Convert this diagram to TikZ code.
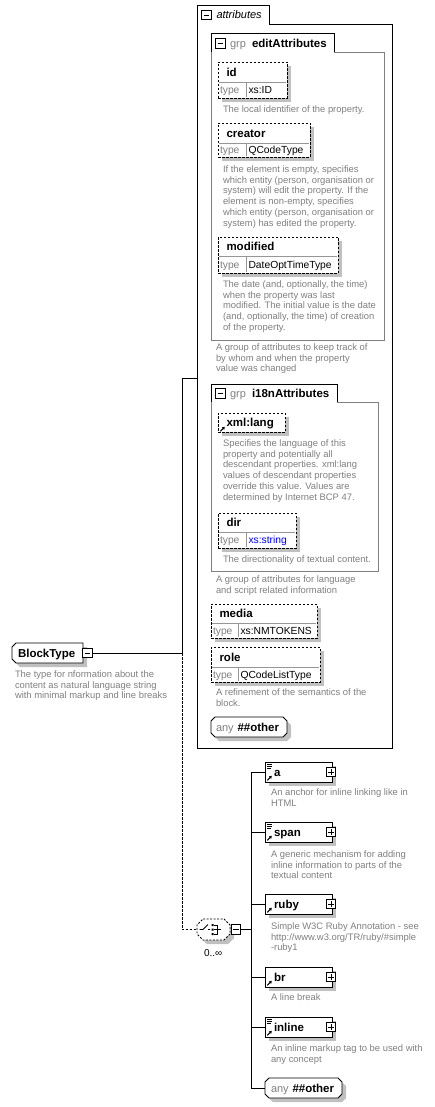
\documentclass[tikz,border=0pt]{standalone}
\usepackage{fontspec}
\setmainfont{Liberation Sans}
\usetikzlibrary{fit,arrows.meta}
\definecolor{descc}{RGB}{128,128,128}
\definecolor{shadowc}{RGB}{192,192,192}
\definecolor{grpc}{RGB}{128,128,128}
\definecolor{divc}{RGB}{150,150,150}
\definecolor{linkc}{RGB}{0,0,255}
\newcommand\fname{\fontsize{11.5}{13}\selectfont\bfseries}
\newcommand\fdesc{\fontsize{9.4}{10.7}\selectfont}
\newcommand\ftype{\fontsize{10.3}{12}\selectfont}
\tikzset{
 box/.style={draw=black, fill=white, line width=0.9pt, inner sep=0pt},
 optbox/.style={box, dash pattern=on 2.5pt off 1.5pt},
 shadowfill/.style={fill=shadowc, draw=none},
 txt/.style={inner sep=0pt, outer sep=0pt},
 nametxt/.style={txt, font=\fname, text height=8.2pt, text depth=0pt},
 grptxt/.style={txt, font=\fontsize{11}{13}\selectfont, text=descc, anchor=west, text height=8pt, text depth=0pt},
 typel/.style={txt, font=\ftype, text=descc, text height=7.4pt, text depth=0pt},
 typev/.style={txt, font=\ftype, text height=7.4pt, text depth=0pt},
 desc/.style={txt, font=\fdesc, text=descc, align=left, anchor=north west},
 divline/.style={draw=divc, line width=0.7pt},
 conn/.style={draw=black, line width=0.9pt},
 dconn/.style={conn, dash pattern=on 2.5pt off 1.5pt},
 icon/.style={draw=black, fill=white, line width=0.7pt, inner sep=0pt, minimum size=9.5pt},
 refarrow/.style={line width=1pt, -{Triangle[length=2.6pt,width=3.2pt]}},
}
% minus / plus icons
\newcommand\minusicon[3]{\node[icon] (#1) at ({#2},{#3}) {};
 \draw[line width=0.7pt] ({#2-2.8},{#3}) -- ({#2+2.8},{#3});}
\newcommand\plusicon[3]{\node[icon] (#1) at ({#2},{#3}) {};
 \draw[line width=0.7pt] ({#2-2.8},{#3}) -- ({#2+2.8},{#3}) ({#2},{#3-2.8}) -- ({#2},{#3+2.8});}
% attribute with type row: name x1 y1 x2 ydiv y2 xdiv label type
\newcommand\attrT[9]{%
 \fill[shadowc] ({#2+4},{#3+4}) rectangle ({#4+4},{#6+4});
 \node[optbox, fit={(#2,#3) (#4,#6)}] (#1) {};
 \draw[divline] ({#2+1},{#5}) -- ({#4-1},{#5});
 \draw[divline] ({#7},{#5}) -- ({#7},{#6-1});
 \node[nametxt, anchor=west] (#1-n) at ({#2+8.5},{(#3+#5)/2}) {#8};
 \node[typel, anchor=west] (#1-t) at ({#2+2},{(#5+#6)/2}) {type};
 \node[typev, anchor=west] (#1-v) at ({#7+2.5},{(#5+#6)/2}) {#9};}
% octagon path: x1 y1 x2 y2 cut style
\newcommand\octdraw[6]{\path[#6] ({#1+#5},{#2}) -- ({#3-#5},{#2}) -- ({#3},{#2+#5}) -- ({#3},{#4-#5}) -- ({#3-#5},{#4}) -- ({#1+#5},{#4}) -- ({#1},{#4-#5}) -- ({#1},{#2+#5}) -- cycle;}
% child element: name y1 label seqicon(1/0)
\newcommand\child[4]{%
 \fill[shadowc] (269,{#2+4}) rectangle (336,{#2+24});
 \node[box, fit={(265,#2) (332,{#2+20})}] (#1) {};
 \node[nametxt, anchor=west] (#1-n) at (274,{#2+10.5}) {#3};
 \draw[refarrow] (267.3,{#2+18.3}) -- (271.8,{#2+13.8});
 \ifnum#4=1 \draw[line width=0.8pt] (267,{#2+2.5}) -- (272,{#2+2.5}) (267,{#2+4.5}) -- (272,{#2+4.5}) (267,{#2+6.5}) -- (271,{#2+6.5});\fi
 \plusicon{#1-p}{331}{#2+10}}
\begin{document}
\begin{tikzpicture}[x=1pt,y=-1pt]
\useasboundingbox (0,0) rectangle (434,1107);
\fill[white] (0,0) rectangle (434,1107);

% ---------- attributes container
\draw[conn] (197,5) -- (269,5) -- (269,24) -- (392,24) -- (392,748) -- (197,748) -- cycle;
\node[fit={(197,24) (392,748)}, inner sep=0pt] (attrs) {};
\minusicon{attrsm}{206.5}{15}
\node[txt, font=\fontsize{11}{13}\selectfont\itshape, anchor=west, text height=8pt, text depth=0pt] (attrst) at (216.5,15) {attributes};

% ---------- editAttributes group
\draw[conn] (211,52) -- (211,33) -- (334,33) -- (334,52);
\draw[draw=grpc, line width=0.9pt] (334,52) -- (384,52) -- (384,340) -- (211,340) -- (211,52);
\node[fit={(211,52) (384,340)}, inner sep=0pt] (editg) {};
\minusicon{editm}{220.5}{43.5}
\node[grptxt] (editgrp) at (230,43.5) {grp};
\node[nametxt, anchor=west] (editn) at (252,43.5) {editAttributes};

\attrT{id}{218}{62}{287}{82}{98}{246}{id}{xs:ID}
\node[desc] (iddesc) at (223,105.7) {The local identifier of the property.};

\attrT{creator}{218}{123}{310}{143}{157}{246}{creator}{QCodeType}
\node[desc] (creatordesc) at (223,165.7) {If the element is empty, specifies\\which entity (person, organisation or\\system) will edit the property. If the\\element is non-empty, specifies\\which entity (person, organisation or\\system) has edited the property.};

\attrT{modified}{218}{237}{338}{256}{273}{246}{modified}{DateOptTimeType}
\node[desc] (modifieddesc) at (223,280.7) {The date (and, optionally, the time)\\when the property was last\\modified. The initial value is the date\\(and, optionally, the time) of creation\\of the property.};

\node[desc] (editdesc) at (216,343.7) {A group of attributes to keep track of\\by whom and when the property\\value was changed};

% ---------- i18nAttributes group
\draw[conn] (211,402) -- (211,384) -- (337,384) -- (337,402);
\draw[draw=grpc, line width=0.9pt] (337,402) -- (378,402) -- (378,571) -- (211,571) -- (211,402);
\node[fit={(211,402) (378,571)}, inner sep=0pt] (i18ng) {};
\minusicon{i18nm}{220.5}{393.5}
\node[grptxt] (i18ngrp) at (230,393.5) {grp};
\node[nametxt, anchor=west] (i18nn) at (252,393.5) {i18nAttributes};

\fill[shadowc] (222,417) rectangle (289,436);
\node[optbox, fit={(218,413) (285,432)}] (xmllang) {};
\node[nametxt, anchor=west] (xmllang-n) at (226.5,422.5) {xml:lang};
\draw[refarrow] (220.3,431.3) -- (224.8,426.8);
\node[desc] (xmllangdesc) at (223,439.7) {Specifies the language of this\\property and potentially all\\descendant properties. xml:lang\\values of descendant properties\\override this value. Values are\\determined by Internet BCP 47.};

\attrT{dir}{218}{513}{296}{532}{548}{246}{dir}{\color{linkc}xs:string}
\node[desc] (dirdesc) at (223,555.7) {The directionality of textual content.};

\node[desc] (i18ndesc) at (216,575.7) {A group of attributes for language\\and script related information};

% ---------- media, role, any
\attrT{media}{211}{604}{317}{623}{638}{238}{media}{xs:NMTOKENS}
\attrT{role}{211}{647}{320}{667}{682}{238}{role}{QCodeListType}
\node[desc] (roledesc) at (216,688.7) {A refinement of the semantics of the\\block.};

\octdraw{215}{721}{291}{741}{4}{fill=shadowc}
\octdraw{211}{717}{287}{737}{4}{draw=black, fill=white, line width=0.9pt}
\node[fit={(211,717) (287,737)}, inner sep=0pt] (anyattr) {};
\node[grptxt] (anyattr-a) at (216,727) {any};
\node[nametxt, anchor=west] (anyattr-n) at (237.5,727) {\#\#other};

% ---------- BlockType
\path[fill=shadowc] (20,647) -- (87,647) -- (87,667) -- (20,667) -- (16,663) -- (16,651) -- cycle;
\path[draw=black, fill=white, line width=0.9pt] (16,643) -- (83,643) -- (83,663) -- (16,663) -- (12,659) -- (12,647) -- cycle;
\node[fit={(12,643) (83,663)}, inner sep=0pt] (btype) {};
\node[nametxt, anchor=west] (btype-n) at (18,653.5) {BlockType};
\minusicon{btypem}{87.5}{653}
\node[desc] (btypedesc) at (15,670.7) {The type for nformation about the\\content as natural language string\\with minimal markup and line breaks};

% ---------- choice compositor
\octdraw{201}{923}{234}{944}{6}{fill=shadowc}
\octdraw{197}{919}{230}{940}{6}{draw=black, fill=white, line width=0.8pt, dash pattern=on 2pt off 1.5pt}
\node[fit={(197,919) (230,940)}, inner sep=0pt] (choice) {};
\draw[line width=0.9pt] (199.5,929.5) -- (203,929.5) -- (208,924.5) (208,929.5) -- (210,929.5);
\fill (211.5,924) rectangle (213.5,926) (211.5,928.5) rectangle (213.5,930.5) (211.5,933) rectangle (213.5,935);
\draw[line width=0.8pt] (214,925) -- (217.5,925) -- (217.5,934) -- (214,934) (214,929.5) -- (221,929.5);
\minusicon{choicem}{236}{929.5}
\node[txt, font=\fontsize{10}{12}\selectfont, anchor=west, text height=7.2pt, text depth=0pt] (choicecard) at (204,952.5) {0..∞};

% ---------- children
\child{ea}{762}{a}{1}
\node[desc] (eadesc) at (271,788.7) {An anchor for inline linking like in\\HTML};
\child{espan}{822}{span}{1}
\node[desc] (espandesc) at (271,850.7) {A generic mechanism for adding\\inline information to parts of the\\textual content};
\child{eruby}{894}{ruby}{0}
\node[desc] (erubydesc) at (271,922.7) {Simple W3C Ruby Annotation - see\\http://www.w3.org/TR/ruby/\#simple\\-ruby1};
\child{ebr}{967}{br}{0}
\node[desc] (ebrdesc) at (271,993.7) {A line break};
\child{einline}{1017}{inline}{1}
\node[desc] (einlinedesc) at (271,1044.7) {An inline markup tag to be used with\\any concept};

\octdraw{269}{1082}{346}{1102}{4}{fill=shadowc}
\octdraw{265}{1078}{342}{1098}{4}{draw=black, fill=white, line width=0.9pt}
\node[fit={(265,1078) (342,1098)}, inner sep=0pt] (eany) {};
\node[grptxt] (eany-a) at (271,1088) {any};
\node[nametxt, anchor=west] (eany-n) at (292.5,1088) {\#\#other};

% ---------- connectors
\coordinate (jn) at (182,653);
\coordinate (aconn) at (197,378);
\coordinate (cv) at (251,929.5);
\draw[conn] (btypem.east) -- (jn);
\draw[conn] (jn) |- (aconn);
\draw[dconn] (jn) |- (choice.west);
\draw[conn] (choicem.east) -- (cv);
\draw[conn] (cv) |- (ea.west);
\draw[conn] (cv) |- (espan.west);
\draw[conn] (cv) |- (eruby.west);
\draw[conn] (cv) |- (ebr.west);
\draw[conn] (cv) |- (einline.west);
\draw[conn] (cv) |- (eany.west);
\end{tikzpicture}
\end{document}
